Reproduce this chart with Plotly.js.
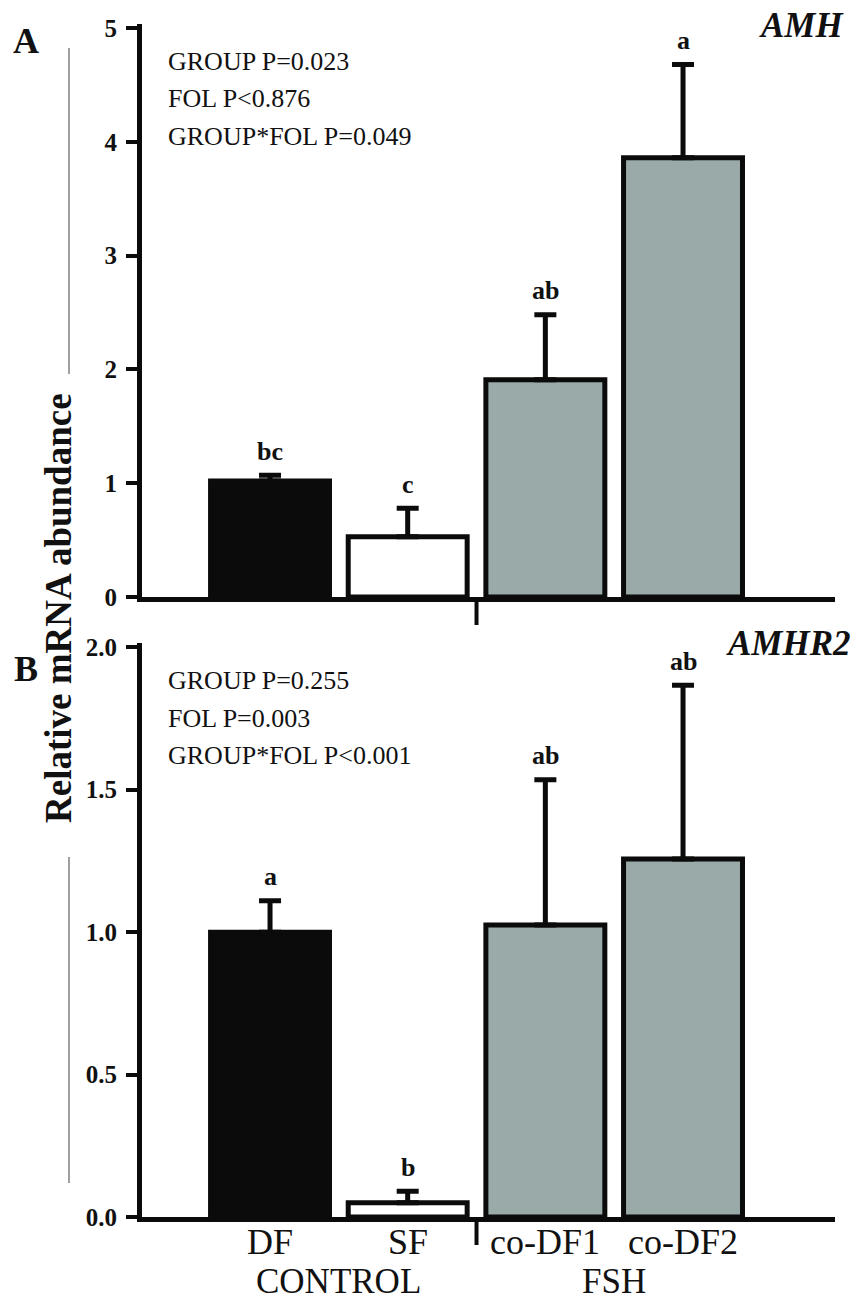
<!DOCTYPE html>
<html>
<head>
<meta charset="utf-8">
<script src="https://cdn.plot.ly/plotly-3.0.1.min.js"></script>
<style>html,body{margin:0;padding:0;background:#fff;}#chart{width:859px;height:1302px;}</style>
</head>
<body>
<div id="chart"></div>
<script>
// ---- data ----
const categories = ["DF", "SF", "co-DF1", "co-DF2"];
const groupNames = ["CONTROL", "FSH"];
const groupMembers = [["DF", "SF"], ["co-DF1", "co-DF2"]];
const barColors = ["#0b0b0b", "#ffffff", "#9aaaa9", "#9aaaa9"];

const amhGene = "AMH";
const amhMean = [1.02, 0.53, 1.91, 3.86];
const amhSEM = [0.05, 0.25, 0.57, 0.82];
const amhLetters = ["bc", "c", "ab", "a"];
const amhStats = ["GROUP P=0.023", "FOL P<0.876", "GROUP*FOL P=0.049"];

const amhr2Gene = "AMHR2";
const amhr2Mean = [1.00, 0.05, 1.025, 1.257];
const amhr2SEM = [0.11, 0.04, 0.51, 0.61];
const amhr2Letters = ["a", "b", "ab", "ab"];
const amhr2Stats = ["GROUP P=0.255", "FOL P=0.003", "GROUP*FOL P<0.001"];

const panelLabels = ["A", "B"];
const yTitle = "Relative mRNA abundance";

// ---- layout helpers (pixel -> paper) ----
const W = 859, H = 1302;
const px = x => x / W;
const py = y => (H - y) / H;
const esc = s => s.replace(/&/g, "&amp;").replace(/</g, "&lt;").replace(/>/g, "&gt;");
const SERIF = "Liberation Serif, Times New Roman, serif";

function barTrace(mean, sem, xa, ya) {
  return {
    type: "bar", x: categories, y: mean, xaxis: xa, yaxis: ya,
    marker: { color: barColors, line: { color: "#0b0b0b", width: 5 } },
    error_y: { type: "data", array: sem, arrayminus: sem.map(() => 0), symmetric: false,
               visible: true, color: "#0b0b0b", thickness: 5, width: 11 },
    showlegend: false, hoverinfo: "skip", cliponaxis: false
  };
}

const data = [
  barTrace(amhMean, amhSEM, "x", "y"),
  barTrace(amhr2Mean, amhr2SEM, "x2", "y2")
];

const annotations = [];
function letters(mean, sem, lets, xa, ya) {
  lets.forEach((t, i) => annotations.push({
    xref: xa, yref: ya, x: categories[i], y: mean[i] + sem[i], text: "<b>" + t + "</b>",
    showarrow: false, yanchor: "middle", yshift: 24,
    font: { family: SERIF, size: 26, color: "#111" }
  }));
}
letters(amhMean, amhSEM, amhLetters, "x", "y");
letters(amhr2Mean, amhr2SEM, amhr2Letters, "x2", "y2");

function stats(lines, yStart) {
  lines.forEach((t, i) => annotations.push({
    xref: "paper", yref: "paper", x: px(166), y: py(yStart + i * 38), text: esc(t),
    showarrow: false, xanchor: "left", yanchor: "middle",
    font: { family: SERIF, size: 26, color: "#111" }
  }));
}
stats(amhStats, 61);
stats(amhr2Stats, 680);

// gene names
annotations.push({ xref: "paper", yref: "paper", x: px(846), y: py(25), text: "<b><i>" + amhGene + "</i></b>",
  showarrow: false, xanchor: "right", yanchor: "middle", font: { family: SERIF, size: 35, color: "#111" } });
annotations.push({ xref: "paper", yref: "paper", x: px(853), y: py(643), text: "<b><i>" + amhr2Gene + "</i></b>",
  showarrow: false, xanchor: "right", yanchor: "middle", font: { family: SERIF, size: 35, color: "#111" } });

// panel letters
annotations.push({ xref: "paper", yref: "paper", x: px(26), y: py(41), text: "<b>" + panelLabels[0] + "</b>",
  showarrow: false, xanchor: "center", yanchor: "middle", font: { family: SERIF, size: 36, color: "#111" } });
annotations.push({ xref: "paper", yref: "paper", x: px(26), y: py(669), text: "<b>" + panelLabels[1] + "</b>",
  showarrow: false, xanchor: "center", yanchor: "middle", font: { family: SERIF, size: 36, color: "#111" } });

// y title
annotations.push({ xref: "paper", yref: "paper", x: px(58), y: py(608), text: "<b>" + yTitle + "</b>",
  textangle: -90, showarrow: false, xanchor: "center", yanchor: "middle",
  font: { family: SERIF, size: 37, color: "#111" } });

// category labels under the bottom axis
categories.forEach(c => annotations.push({ xref: "x2", yref: "paper", x: c, y: py(1242), text: c,
  showarrow: false, xanchor: "center", yanchor: "middle",
  font: { family: SERIF, size: 36, color: "#111" } }));

// group labels
groupNames.forEach((g, gi) => {
  const idx = groupMembers[gi].map(c => categories.indexOf(c));
  const mid = (Math.min(...idx) + Math.max(...idx)) / 2;
  annotations.push({ xref: "x2", yref: "paper", x: mid, y: py(1281), text: g,
    showarrow: false, xanchor: "center", yanchor: "middle",
    font: { family: SERIF, size: 35, color: "#111" } });
});

// group separator ticks and decorative bracket lines
const sepIdx = (categories.indexOf(groupMembers[0][1]) + categories.indexOf(groupMembers[1][0])) / 2;
const shapes = [
  { type: "line", xref: "x", yref: "paper", x0: sepIdx, x1: sepIdx, y0: py(597), y1: py(625),
    line: { color: "#0b0b0b", width: 4 } },
  { type: "line", xref: "x2", yref: "paper", x0: sepIdx, x1: sepIdx, y0: py(1217), y1: py(1245),
    line: { color: "#0b0b0b", width: 4 } },
  { type: "line", xref: "paper", yref: "paper", x0: px(69), x1: px(69), y0: py(48), y1: py(374),
    line: { color: "#808080", width: 1.5 } },
  { type: "line", xref: "paper", yref: "paper", x0: px(69), x1: px(69), y0: py(857), y1: py(1183),
    line: { color: "#808080", width: 1.5 } }
];

const xCommon = {
  type: "category", categoryorder: "array", categoryarray: categories,
  domain: [px(142), px(835)], range: [-0.93, 4.104],
  showline: true, linecolor: "#0b0b0b", linewidth: 5, ticks: "", showgrid: false, zeroline: false,
  showticklabels: false, fixedrange: true
};
const yCommon = {
  showline: true, linecolor: "#0b0b0b", linewidth: 5, ticks: "outside", ticklen: 11, tickwidth: 4,
  tickcolor: "#0b0b0b", showgrid: false, zeroline: false, ticklabelstandoff: 4,
  tickfont: { family: SERIF, size: 25, color: "#111", weight: "bold" }, fixedrange: true
};

const layout = {
  width: W, height: H,
  margin: { l: 0, r: 0, t: 0, b: 0 },
  paper_bgcolor: "#fff", plot_bgcolor: "#fff",
  bargap: 0.136,
  showlegend: false,
  xaxis: Object.assign({}, xCommon, { anchor: "y" }),
  xaxis2: Object.assign({}, xCommon, { anchor: "y2" }),
  yaxis: Object.assign({}, yCommon, { anchor: "x", domain: [py(597), py(24)], range: [0, 5.035], dtick: 1, tick0: 0 }),
  yaxis2: Object.assign({}, yCommon, { anchor: "x2", domain: [py(1217), py(643)], range: [0, 2.015], dtick: 0.5, tick0: 0, tickformat: ".1f" }),
  annotations: annotations,
  shapes: shapes
};

Plotly.newPlot("chart", data, layout, { staticPlot: true, displayModeBar: false });
</script>
</body>
</html>
